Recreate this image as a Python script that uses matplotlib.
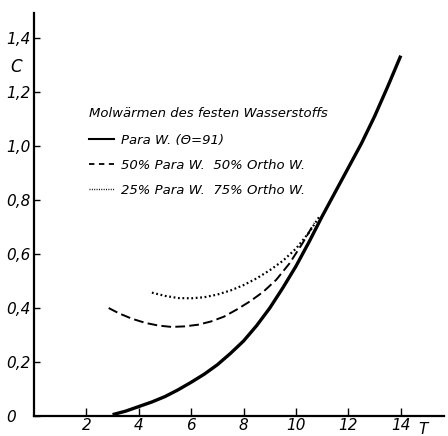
import matplotlib
matplotlib.use("Agg")
import matplotlib.pyplot as plt
from matplotlib import font_manager
from matplotlib.lines import Line2D

# ---- data ----
T_para = [3.0, 3.5, 4, 4.5, 5, 5.5, 6, 6.5, 7, 7.5, 8, 8.5, 9, 9.5, 10,
          10.5, 11, 11.5, 12, 12.5, 13, 13.5, 14]
C_para = [0.005, 0.018, 0.035, 0.052, 0.072, 0.097, 0.125, 0.155, 0.19, 0.232,
          0.278, 0.335, 0.40, 0.475, 0.555, 0.645, 0.74, 0.83, 0.92, 1.01,
          1.11, 1.22, 1.335]

T_50 = [2.85, 3.25, 3.75, 4.25, 4.75, 5.25, 5.75, 6.25, 6.75, 7.25, 7.75,
        8.25, 8.75, 9.25, 9.75, 10.25, 10.7]
C_50 = [0.40, 0.38, 0.36, 0.345, 0.335, 0.33, 0.332, 0.338, 0.35, 0.368,
        0.395, 0.425, 0.46, 0.505, 0.565, 0.64, 0.715]

T_25 = [4.5, 5, 5.5, 6, 6.5, 7, 7.5, 8, 8.5, 9, 9.5, 10, 10.5, 10.9]
C_25 = [0.457, 0.445, 0.437, 0.436, 0.44, 0.45, 0.465, 0.485, 0.51, 0.54,
        0.575, 0.62, 0.68, 0.74]

x_ticks = [2, 4, 6, 8, 10, 12, 14]
x_labels = ["2", "4", "6", "8", "10", "12", "14"]
y_ticks = [0, 0.2, 0.4, 0.6, 0.8, 1.0, 1.2, 1.4]
y_labels = ["0", "0,2", "0,4", "0,6", "0,8", "1,0", "1,2", "1,4"]

title = "Molwärmen des festen Wasserstoffs"
labels = ["Para W. (Θ=91)", "50% Para W.  50% Ortho W.", "25% Para W.  75% Ortho W."]

# ---- font ----
names = {f.name for f in font_manager.fontManager.ttflist}
fam = "Liberation Sans Narrow" if "Liberation Sans Narrow" in names else "DejaVu Sans"
plt.rcParams["font.family"] = [fam, "DejaVu Sans"]
plt.rcParams["font.style"] = "italic"

fig = plt.figure(figsize=(4.48, 4.36), dpi=100)
ax = fig.add_axes([34 / 448, 20 / 436, 410 / 448, 403 / 436])
ax.set_xlim(0, 15.65)
ax.set_ylim(0, 1.493)

ax.plot(T_para, C_para, color="black", lw=2.4, solid_capstyle="butt")
ax.plot(T_50, C_50, color="black", lw=1.4, dashes=(5, 2.2))
ax.plot(T_25, C_25, color="black", lw=1.6, dashes=(0.8, 1.2))

for s in ("top", "right"):
    ax.spines[s].set_visible(False)
for s in ("left", "bottom"):
    ax.spines[s].set_linewidth(1.6)

fs = 13 if fam != "DejaVu Sans" else 11
ax.set_xticks(x_ticks)
ax.set_xticklabels(x_labels, fontsize=fs, style="italic")
ax.set_yticks(y_ticks)
ax.set_yticklabels(y_labels, fontsize=fs, style="italic", ha="left")
ax.tick_params(axis="x", direction="in", length=6, width=1.0, pad=1.5)
ax.tick_params(axis="y", direction="in", length=4, width=1.0, pad=20)

ax.text(-0.69, 1.293, "C", fontsize=fs + 1, style="italic", ha="center", va="center")
ax.text(14.85, -0.022, "T", fontsize=fs, style="italic", ha="center", va="top")

handles = [
    Line2D([], [], color="black", lw=1.5),
    Line2D([], [], color="black", lw=1.3, dashes=(3, 2.5)),
    Line2D([], [], color="black", lw=1.0, dashes=(0.7, 1.0)),
]
leg = ax.legend(handles, labels, title=title, loc="upper left",
                bbox_to_anchor=(55 / 410, 1 - 94 / 403), frameon=False,
                handlelength=1.9, handletextpad=0.5, labelspacing=0.9,
                borderaxespad=0, borderpad=0, alignment="left",
                prop={"size": 9.5, "style": "italic"},
                title_fontproperties={"size": 9.5, "style": "italic"})
leg._legend_box.sep = 10

fig.savefig("out.png", dpi=100)
